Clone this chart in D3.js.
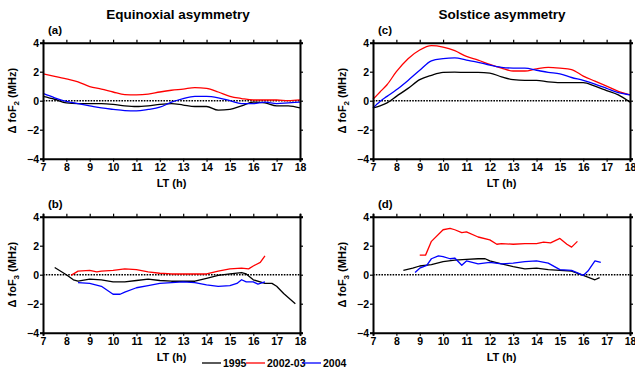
<!DOCTYPE html>
<html>
<head>
<meta charset="utf-8">
<script src="https://cdn.jsdelivr.net/npm/d3@7"></script>
<style>
  html, body { margin: 0; padding: 0; background: #fff; }
  svg { display: block; font-family: "Liberation Sans", Arial, sans-serif; font-weight: bold; }
</style>
</head>
<body>
<svg id="chart" width="635" height="371"></svg>
<script>
// Local time axis ticks and asymmetry values (MHz)
const xTicks = [7, 8, 9, 10, 11, 12, 13, 14, 15, 16, 17, 18];
const yTicks = [-4, -2, 0, 2, 4];
const seriesNames = ["1995", "2002-03", "2004"];
const seriesColors = ["#000000", "#ff0000", "#0000ff"];

// (a) Equinoxial asymmetry, foF2
const aHours = [7, 7.5, 8, 8.5, 9, 9.5, 10, 10.5, 11, 11.5, 12, 12.5, 13, 13.5, 14, 14.5, 15, 15.5, 16, 16.5, 17, 17.5, 18];
const a1995 = [0.3, 0.1, -0.15, -0.2, -0.2, -0.2, -0.25, -0.35, -0.4, -0.35, -0.25, -0.2, -0.3, -0.4, -0.4, -0.65, -0.6, -0.35, -0.1, -0.15, -0.35, -0.35, -0.5];
const a2002 = [1.85, 1.68, 1.5, 1.3, 0.97, 0.8, 0.6, 0.42, 0.4, 0.45, 0.6, 0.72, 0.8, 0.9, 0.85, 0.6, 0.3, 0.15, 0.05, 0.05, 0.05, 0.0, 0.05];
const a2004 = [0.5, 0.2, -0.05, -0.2, -0.35, -0.5, -0.6, -0.68, -0.7, -0.6, -0.45, -0.1, 0.15, 0.3, 0.3, 0.2, 0.0, -0.2, -0.2, -0.1, -0.2, -0.15, -0.1];

// (c) Solstice asymmetry, foF2
const cHours = [7, 7.3, 7.6, 8, 8.5, 9, 9.5, 10, 10.5, 11, 11.5, 12, 12.5, 13, 13.5, 14, 14.5, 15, 15.5, 16, 16.5, 17, 17.5, 18];
const c1995 = [-0.5, -0.35, -0.15, 0.3, 0.85, 1.45, 1.75, 1.95, 1.97, 1.95, 1.95, 1.9, 1.65, 1.45, 1.4, 1.4, 1.3, 1.25, 1.25, 1.25, 1.0, 0.7, 0.4, -0.1];
const c2002 = [0.1, 0.6, 1.1, 2.0, 2.9, 3.5, 3.8, 3.7, 3.45, 3.05, 2.8, 2.5, 2.25, 2.05, 2.05, 2.2, 2.3, 2.25, 2.15, 1.7, 1.35, 1.0, 0.65, 0.4];
const c2004 = [-0.5, -0.05, 0.3, 0.75, 1.4, 2.1, 2.75, 2.9, 2.95, 2.8, 2.65, 2.45, 2.3, 2.25, 2.25, 2.1, 1.95, 1.85, 1.6, 1.4, 1.15, 0.85, 0.55, 0.4];

// (b) Equinoxial asymmetry, foF3
const b1995Hours = [7.5, 8, 8.3, 8.5, 9, 9.5, 10, 10.5, 11, 11.5, 12, 12.5, 13, 13.5, 14, 14.5, 15, 15.5, 15.7, 16, 16.5, 16.8, 17, 17.3, 17.8];
const b1995 = [0.5, 0.0, -0.35, -0.45, -0.3, -0.35, -0.5, -0.5, -0.4, -0.3, -0.4, -0.45, -0.45, -0.45, -0.25, -0.05, 0.05, 0.15, 0.05, -0.35, -0.6, -0.6, -0.8, -1.3, -2.0];
const b2002Hours = [8.2, 8.5, 9, 9.3, 9.5, 10, 10.5, 11, 11.5, 12, 12.5, 13, 13.5, 14, 14.5, 15, 15.5, 15.8, 16, 16.3, 16.5];
const b2002 = [-0.05, 0.25, 0.3, 0.2, 0.25, 0.3, 0.4, 0.35, 0.2, 0.1, 0.05, 0.05, 0.05, 0.05, 0.25, 0.4, 0.45, 0.4, 0.6, 0.85, 1.3];
const b2004Hours = [8.5, 9, 9.5, 10, 10.3, 10.5, 11, 11.5, 12, 12.5, 13, 13.5, 14, 14.5, 15, 15.3, 15.5, 15.7, 16, 16.2, 16.5];
const b2004 = [-0.55, -0.6, -0.8, -1.35, -1.35, -1.2, -0.9, -0.75, -0.6, -0.55, -0.5, -0.55, -0.7, -0.8, -0.75, -0.6, -0.35, -0.5, -0.5, -0.65, -0.5];

// (d) Solstice asymmetry, foF3
const d1995Hours = [8.3, 8.7, 9, 9.5, 10, 10.5, 11, 11.5, 11.8, 12, 12.5, 13, 13.5, 14, 14.5, 15, 15.5, 16, 16.5, 16.7];
const d1995 = [0.3, 0.45, 0.6, 0.7, 0.9, 1.0, 1.05, 1.1, 1.1, 0.95, 0.75, 0.55, 0.4, 0.45, 0.35, 0.3, 0.25, -0.05, -0.35, -0.2];
const d2002Hours = [9, 9.25, 9.5, 10, 10.3, 10.5, 10.8, 11, 11.5, 12, 12.3, 12.5, 13, 13.5, 14, 14.3, 14.6, 15, 15.3, 15.5, 15.75];
const d2002 = [1.35, 1.35, 2.3, 3.1, 3.2, 3.1, 2.9, 2.95, 2.6, 2.4, 2.1, 2.15, 2.1, 2.15, 2.15, 2.25, 2.2, 2.5, 2.1, 1.9, 2.3];
const d2004Hours = [8.8, 9, 9.3, 9.5, 9.8, 10, 10.3, 10.5, 10.8, 11, 11.5, 12, 12.5, 13, 13.5, 14, 14.5, 15, 15.5, 16, 16.2, 16.5, 16.75];
const d2004 = [0.15, 0.45, 0.65, 1.1, 1.3, 1.25, 1.1, 1.15, 0.65, 0.95, 0.75, 0.85, 0.75, 0.8, 0.9, 0.95, 0.8, 0.35, 0.3, -0.05, 0.25, 0.95, 0.85];

const svg = d3.select("#chart");

const panels = [
  { tag: "(a)", sub: "2", left: 43, top: 42.7, smooth: true,
    lines: [[aHours, a1995], [aHours, a2002], [aHours, a2004]] },
  { tag: "(c)", sub: "2", left: 373, top: 42.7, smooth: true,
    lines: [[cHours, c1995], [cHours, c2002], [cHours, c2004]] },
  { tag: "(b)", sub: "3", left: 43, top: 216.7, smooth: false,
    lines: [[b1995Hours, b1995], [b2002Hours, b2002], [b2004Hours, b2004]] },
  { tag: "(d)", sub: "3", left: 373, top: 216.7, smooth: false,
    lines: [[d1995Hours, d1995], [d2002Hours, d2002], [d2004Hours, d2004]] }
];
const pw = 257, ph = 116;

panels.forEach(p => {
  const x = d3.scaleLinear().domain([7, 18]).range([0, pw]);
  const y = d3.scaleLinear().domain([-4, 4]).range([ph, 0]);
  const g = svg.append("g").attr("transform", `translate(${p.left},${p.top})`);

  // zero reference line
  g.append("line")
    .attr("x1", 0).attr("x2", pw)
    .attr("y1", y(0)).attr("y2", y(0))
    .attr("stroke", "#000").attr("stroke-width", 1.6)
    .attr("stroke-dasharray", "1.6,1.2");

  const line = d3.line()
    .x(d => x(d[0])).y(d => y(d[1]))
    .curve(p.smooth ? d3.curveMonotoneX : d3.curveLinear);

  p.lines.forEach((s, i) => {
    const pts = s[0].map((h, k) => [h, s[1][k]]);
    g.append("path").datum(pts)
      .attr("d", line)
      .attr("fill", "none")
      .attr("stroke", seriesColors[i])
      .attr("stroke-width", 1.3)
      .attr("stroke-linejoin", "round");
  });

  // axes on four sides, ticks outward
  const axB = g.append("g").attr("transform", `translate(0,${ph})`)
    .call(d3.axisBottom(x).tickValues(xTicks).tickSize(3).tickPadding(2).tickFormat(d3.format("d")));
  const axT = g.append("g")
    .call(d3.axisTop(x).tickValues(xTicks).tickSize(3).tickFormat(""));
  const axL = g.append("g")
    .call(d3.axisLeft(y).tickValues(yTicks).tickSize(3).tickPadding(1).tickFormat(d3.format("d")));
  const axR = g.append("g").attr("transform", `translate(${pw},0)`)
    .call(d3.axisRight(y).tickValues(yTicks).tickSize(3).tickFormat(""));

  [axB, axT, axL, axR].forEach(a => {
    a.select(".domain").attr("stroke", "#000").attr("stroke-width", 2);
    a.selectAll(".tick line").attr("stroke", "#000").attr("stroke-width", 1.2);
    a.selectAll("text").attr("font-size", 10.5).attr("font-weight", "bold")
      .attr("font-family", "'Liberation Sans', Arial, sans-serif").attr("fill", "#000");
  });
  // clean square corners of the frame
  [axB, axT, axL, axR].forEach(a => a.select(".domain").attr("d", function () {
    return d3.select(this).attr("d").replace(/V(-?[\d.]+)H/g, "V$1H").toString();
  }));

  g.append("text").attr("x", 5).attr("y", -9).attr("font-size", 11.5).text(p.tag);

  g.append("text")
    .attr("x", pw / 2).attr("y", ph + 28)
    .attr("text-anchor", "middle").attr("font-size", 11)
    .text("LT (h)");

  const yl = g.append("text")
    .attr("transform", `translate(-27,${ph / 2}) rotate(-90)`)
    .attr("text-anchor", "middle").attr("font-size", 11);
  yl.append("tspan").text("\u0394 foF");
  yl.append("tspan").attr("font-size", 8).attr("dy", 3).text(p.sub);
  yl.append("tspan").attr("dy", -3).text(" (MHz)");
});

// column titles
svg.append("text").attr("x", 178).attr("y", 19).attr("text-anchor", "middle")
  .attr("font-size", 13.5).text("Equinoxial asymmetry");
svg.append("text").attr("x", 502).attr("y", 19).attr("text-anchor", "middle")
  .attr("font-size", 13.5).text("Solstice asymmetry");

// legend
const legend = svg.append("g").attr("transform", "translate(202,363)");
const legendX = [0, 44, 100];
seriesNames.forEach((n, i) => {
  const lg = legend.append("g").attr("transform", `translate(${legendX[i]},0)`);
  lg.append("line").attr("x1", 0).attr("x2", 19).attr("y1", 0).attr("y2", 0)
    .attr("stroke", seriesColors[i]).attr("stroke-width", 1.3);
  lg.append("text").attr("x", 21).attr("y", 4).attr("font-size", 10.5).text(n);
});
</script>
</body>
</html>
